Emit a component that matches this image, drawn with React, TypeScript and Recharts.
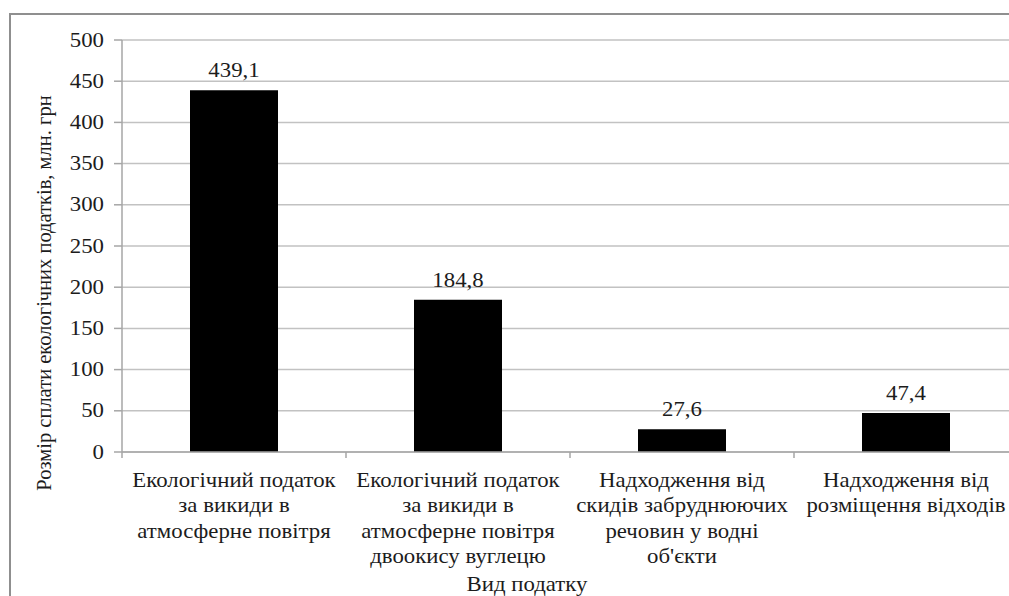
import React from 'react'
import { BarChart, Bar, XAxis, YAxis, CartesianGrid, LabelList } from 'recharts'

const categories = [
  'Екологічний податок\nза викиди в\nатмосферне повітря',
  'Екологічний податок\nза викиди в\nатмосферне повітря\nдвоокису вуглецю',
  'Надходження від\nскидів забруднюючих\nречовин у водні\nоб\'єкти',
  'Надходження від\nрозміщення відходів',
]
const payments = [439.1, 184.8, 27.6, 47.4]
const yTicks = [0, 50, 100, 150, 200, 250, 300, 350, 400, 450, 500]
const yTitle = 'Розмір сплати екологічних податків, млн. грн'
const xTitle = 'Вид податку'

const data = categories.map((name, i) => ({ name, value: payments[i] }))

const FONT = "'Liberation Serif', 'Times New Roman', serif"
const TEXT = '#1c1c1c'
const FS = 20
// the source image is a bit wider than tall, so horizontal text gets stretched
const SX = 1.14
const CHART_W = 1030
const MARGIN = { top: 40, right: 12, left: 0, bottom: 0 }
const Y_W = 122
const band = (CHART_W - MARGIN.left - MARGIN.right - Y_W) / categories.length

const SText = ({ x, y, anchor = 'middle', baseline, children }: any) => (
  <text
    transform={`translate(${x} ${y}) scale(${SX} 1)`}
    x={0}
    y={0}
    textAnchor={anchor}
    dominantBaseline={baseline}
    fontSize={FS}
    fontFamily={FONT}
    fill={TEXT}
  >
    {children}
  </text>
)

const XTick = ({ x, y, payload }: any) => {
  const lines = String(payload.value).split('\n')
  return (
    <g>
      <line x1={x - band / 2} x2={x - band / 2} y1={y} y2={y + 6} stroke="#a6a6a6" strokeWidth={1.5} />
      {lines.map((l, i) => (
        <SText key={i} x={x} y={y + 35 + i * 25.3}>{l}</SText>
      ))}
    </g>
  )
}

const YTick = ({ x, y, payload }: any) => (
  <SText x={x} y={y} anchor="end" baseline="central">{payload.value}</SText>
)

const ValueLabel = ({ x, y, width, value }: any) => (
  <SText x={x + width / 2} y={y - 13}>{String(value).replace('.', ',')}</SText>
)

export default function App() {
  return (
    <div style={{ position: 'absolute', left: 0, top: 0, width: 1009, height: 596, overflow: 'hidden', background: '#fff' }}>
      <div style={{ position: 'absolute', left: 9, top: 13, right: 0, bottom: 0, borderLeft: '2px solid #8f8f8f', borderTop: '2px solid #8f8f8f' }} />
      <BarChart width={CHART_W} height={596} data={data} margin={MARGIN} barSize={88} style={{ position: 'absolute', left: 0, top: 0 }}>
        <CartesianGrid vertical={false} stroke="#c2c2c2" strokeWidth={1.5} />
        <XAxis
          dataKey="name"
          interval={0}
          height={144}
          tickSize={0}
          tickMargin={0}
          tick={<XTick />}
          axisLine={{ stroke: '#a6a6a6', strokeWidth: 1.5 }}
          label={{ content: () => <SText x={527} y={591}>{xTitle}</SText> }}
        />
        <YAxis
          width={Y_W}
          domain={[0, 500]}
          ticks={yTicks}
          interval={0}
          tickSize={8}
          tickMargin={10}
          tick={<YTick />}
          tickLine={{ stroke: '#a6a6a6', strokeWidth: 1.5 }}
          axisLine={{ stroke: '#a6a6a6', strokeWidth: 1.5 }}
          label={{
            content: () => (
              <text transform="translate(44 293) rotate(-90)" x={0} y={0} textAnchor="middle" dominantBaseline="central" fontSize={20.5} fontFamily={FONT} fill={TEXT}>
                {yTitle}
              </text>
            ),
          }}
        />
        <Bar dataKey="value" fill="#000" isAnimationActive={false}>
          <LabelList dataKey="value" content={<ValueLabel />} />
        </Bar>
      </BarChart>
    </div>
  )
}
